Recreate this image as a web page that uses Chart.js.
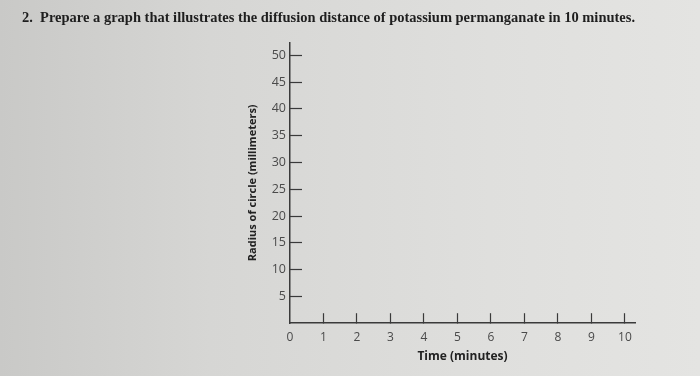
<!DOCTYPE html>
<html>
<head>
<meta charset="utf-8">
<script src="https://cdn.jsdelivr.net/npm/chart.js@4.4.1/dist/chart.umd.min.js"></script>
<style>
  html, body { margin: 0; padding: 0; }
  body {
    width: 700px; height: 376px; overflow: hidden;
    background: linear-gradient(90deg, #c9c9c7 0%, #d6d6d4 30%, #dfdfdd 70%, #e4e4e2 100%);
  }
  #wrap { width: 700px; height: 376px; }
</style>
</head>
<body>
<div id="wrap"><canvas id="myChart" width="700" height="376"></canvas></div>
<script>
// worksheet text
const questionText = '2.  Prepare a graph that illustrates the diffusion distance of potassium permanganate in 10 minutes.';
const xTitle = 'Time (minutes)';
const yTitle = 'Radius of circle (millimeters)';

// axis ticks as printed on the sheet
const timeTicks = [0, 1, 2, 3, 4, 5, 6, 7, 8, 9, 10];
const radiusTicks = [5, 10, 15, 20, 25, 30, 35, 40, 45, 50];

// the graph is blank, nothing plotted yet
const timeValues = [];
const radiusValues = [];

const makeDataset = (xs, ys) => {
  let resultdata = [];
  for (let i = 0; i < xs.length; i++) {
    resultdata.push({ x: xs[i], y: ys[i] });
  }
  return resultdata;
};

const axisColor = '#3a3a3a';
const labelColor = '#4a4a4a';

const config = {
  type: 'scatter',
  data: {
    datasets: [
      {
        label: 'radius',
        data: makeDataset(timeValues, radiusValues),
        backgroundColor: '#222',
        borderColor: '#222',
      },
    ],
  },
  options: {
    responsive: false,
    animation: false,
    layout: { padding: { left: 22, right: 65, top: 10, bottom: 12 } },
    plugins: {
      legend: { display: false },
      tooltip: { enabled: false },
      title: {
        display: true,
        text: questionText,
        align: 'start',
        color: '#1e1e1e',
        font: { family: 'Liberation Serif', size: 14.5, weight: 'bold' },
        padding: { top: 0, bottom: 15 },
      },
    },
    scales: {
      x: {
        type: 'linear',
        position: 'bottom',
        min: 0,
        max: 10.3,
        afterBuildTicks: (scale) => {
          scale.ticks = timeTicks.map((v) => ({ value: v }));
        },
        grid: {
          drawOnChartArea: false,
          drawTicks: true,
          tickLength: -10,
          tickWidth: 1.2,
          color: (ctx) => (ctx.index === 0 ? 'rgba(0,0,0,0)' : axisColor),
        },
        border: { display: true, color: axisColor, width: 1.5 },
        ticks: {
          color: labelColor,
          padding: 17,
          maxRotation: 0,
          font: { family: 'Open Sans', size: 12 },
        },
        title: {
          display: true,
          text: xTitle,
          color: '#222',
          font: { family: 'Open Sans', size: 12, weight: 'bold' },
          padding: { top: -12, bottom: 0 },
        },
      },
      y: {
        type: 'linear',
        min: 0,
        max: 52.4,
        afterBuildTicks: (scale) => {
          scale.ticks = radiusTicks.map((v) => ({ value: v }));
        },
        afterFit: (scale) => {
          scale.width = 268;
        },
        grid: {
          drawOnChartArea: false,
          drawTicks: true,
          tickLength: -12,
          tickWidth: 1.2,
          color: axisColor,
        },
        border: { display: true, color: axisColor, width: 1.5 },
        ticks: {
          color: labelColor,
          padding: 16,
          font: { family: 'Open Sans', size: 12.5 },
        },
        title: {
          display: true,
          text: yTitle,
          color: '#222',
          font: { family: 'Open Sans', size: 11, weight: 'bold' },
          padding: { top: 224, bottom: 0 },
        },
      },
    },
  },
};

const myChart = new Chart(document.getElementById('myChart'), config);
</script>
</body>
</html>
